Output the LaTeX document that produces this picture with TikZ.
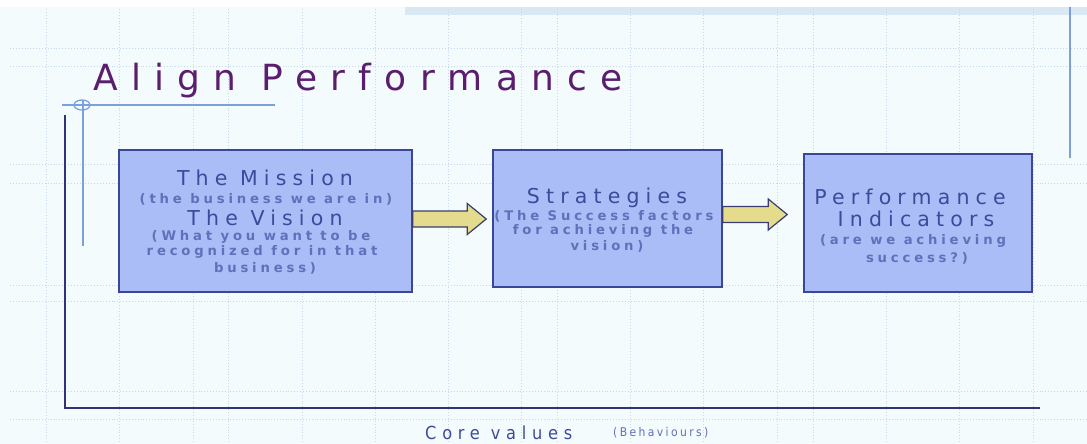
\documentclass[tikz,border=0pt]{standalone}
\usepackage{fontspec}
\setmainfont{DejaVu Sans}
\newfontfamily\titlefont{DejaVu Sans}[LetterSpace=37]
\newfontfamily\headfont{DejaVu Sans}[LetterSpace=30]
\newfontfamily\notefont{DejaVu Sans Bold}[LetterSpace=29]
\newfontfamily\axisfont{DejaVu Sans Condensed}[LetterSpace=32]
\newfontfamily\axisnotefont{DejaVu Sans Condensed}[LetterSpace=20]
\usetikzlibrary{calc}

\definecolor{paper}{HTML}{F3FBFD}
\definecolor{gridblue}{HTML}{C6D9EA}
\definecolor{stripblue}{HTML}{D9E8F3}
\definecolor{boxfill}{HTML}{ABBDF6}
\definecolor{boxline}{HTML}{3B4796}
\definecolor{arrowfill}{HTML}{E4DC8C}
\definecolor{arrowline}{HTML}{3A3D70}
\definecolor{titlepurple}{HTML}{5B1E6E}
\definecolor{headblue}{HTML}{3D4A9C}
\definecolor{noteblue}{HTML}{6070BA}
\definecolor{axisnavy}{HTML}{2E3477}
\definecolor{ruleblue}{HTML}{7C9FE0}

\tikzset{
  gridline/.style={gridblue, dotted, line width=0.9pt},
  stagebox/.style={draw=boxline, fill=boxfill, line width=1.5pt, inner sep=0pt},
  headtext/.style={anchor=base, inner sep=0pt, text=headblue,
    font=\headfont\fontsize{20.5}{24}\selectfont},
  notetext/.style={anchor=base, inner sep=0pt, text=noteblue,
    font=\notefont\fontsize{13.2}{15}\selectfont},
  blockarrow/.style={draw=arrowline, fill=arrowfill, line width=1.2pt,
    line join=miter,
    to path={let \p1=(\tikztostart), \p2=(\tikztotarget) in
      (\x1,\y1+8pt) -- (\x2-19pt,\y1+8pt) -- (\x2-19pt,\y1+15.5pt)
      -- (\x2,\y1) -- (\x2-19pt,\y1-15.5pt) -- (\x2-19pt,\y1-8pt)
      -- (\x1,\y1-8pt) -- cycle}},
  ruleline/.style={ruleblue, line width=1.3pt}
}

\begin{document}
\begin{tikzpicture}[x=1pt,y=-1pt]
\useasboundingbox (0,0) rectangle (1087,444);

% page background, top strip and hatched band
\fill[white] (0,0) rectangle (1087,7);
\fill[paper] (0,7) rectangle (1087,444);
\fill[stripblue] (405,7) rectangle (1087,15);

% dotted background grid
\foreach \gx in {46,119,193,228,302,375,448,521,557,630,703,777,813,886,959,1033}
  \draw[gridline] (\gx,9) -- (\gx,444);
\foreach \gy in {48,66,164,183,285,301,391,419}
  \draw[gridline] (10,\gy) -- (1087,\gy);

% title and its rule
\node[anchor=base west, inner sep=0pt, text=titlepurple,
  font=\titlefont\fontsize{36}{40}\selectfont] (title) at (93,90) {Align Performance};
\draw[ruleline] (62,105) -- (275,105);
\draw[ruleline] (82,105) ellipse (8 and 5);
\draw[ruleline] (83,100) -- (83,246);
\draw[ruleline] (1070,7) -- (1070,158);

% axes
\draw[axisnavy, line width=2.2pt] (65,115) -- (65,408) -- (1040,408);

% stage boxes
\node[stagebox, minimum width=293pt, minimum height=142pt] (mission) at (265.5,221) {};
\node[stagebox, minimum width=229pt, minimum height=137pt] (strat) at (607.5,218.5) {};
\node[stagebox, minimum width=228pt, minimum height=138pt] (perf) at (918,223) {};

% box texts
\node[headtext] (m1) at (265,185) {The Mission};
\node[notetext] (m2) at (266,203) {(the business we are in)};
\node[headtext] (m3) at (265,225) {The Vision};
\node[notetext] (m4) at (261,240) {(What you want to be};
\node[notetext] (m5) at (262,255) {recognized for in that};
\node[notetext] (m6) at (265,272) {business)};

\node[headtext] (s1) at (607,203) {Strategies};
\node[notetext] (s2) at (604,220) {(The Success factors};
\node[notetext] (s3) at (603,234) {for achieving the};
\node[notetext] (s4) at (607,250) {vision)};

\node[headtext] (p1) at (910,204) {Performance};
\node[headtext] (p2) at (916,226) {Indicators};
\node[notetext] (p3) at (913,244) {(are we achieving};
\node[notetext] (p4) at (917,262) {success?)};

% connectors between stages
\draw[blockarrow] ([yshift=2pt]mission.east) to ([xshift=-6pt]strat.west);
\draw[blockarrow] ([yshift=4pt]strat.east) to ([xshift=-16pt]perf.west);

% axis caption
\node[anchor=base west, inner sep=0pt, text=headblue,
  font=\axisfont\fontsize{18}{21}\selectfont] (core) at (425,439) {Core values};
\node[anchor=base west, inner sep=0pt, text=noteblue,
  font=\axisnotefont\fontsize{12}{14}\selectfont] (behav) at (613,436) {(Behaviours)};
\end{tikzpicture}
\end{document}
